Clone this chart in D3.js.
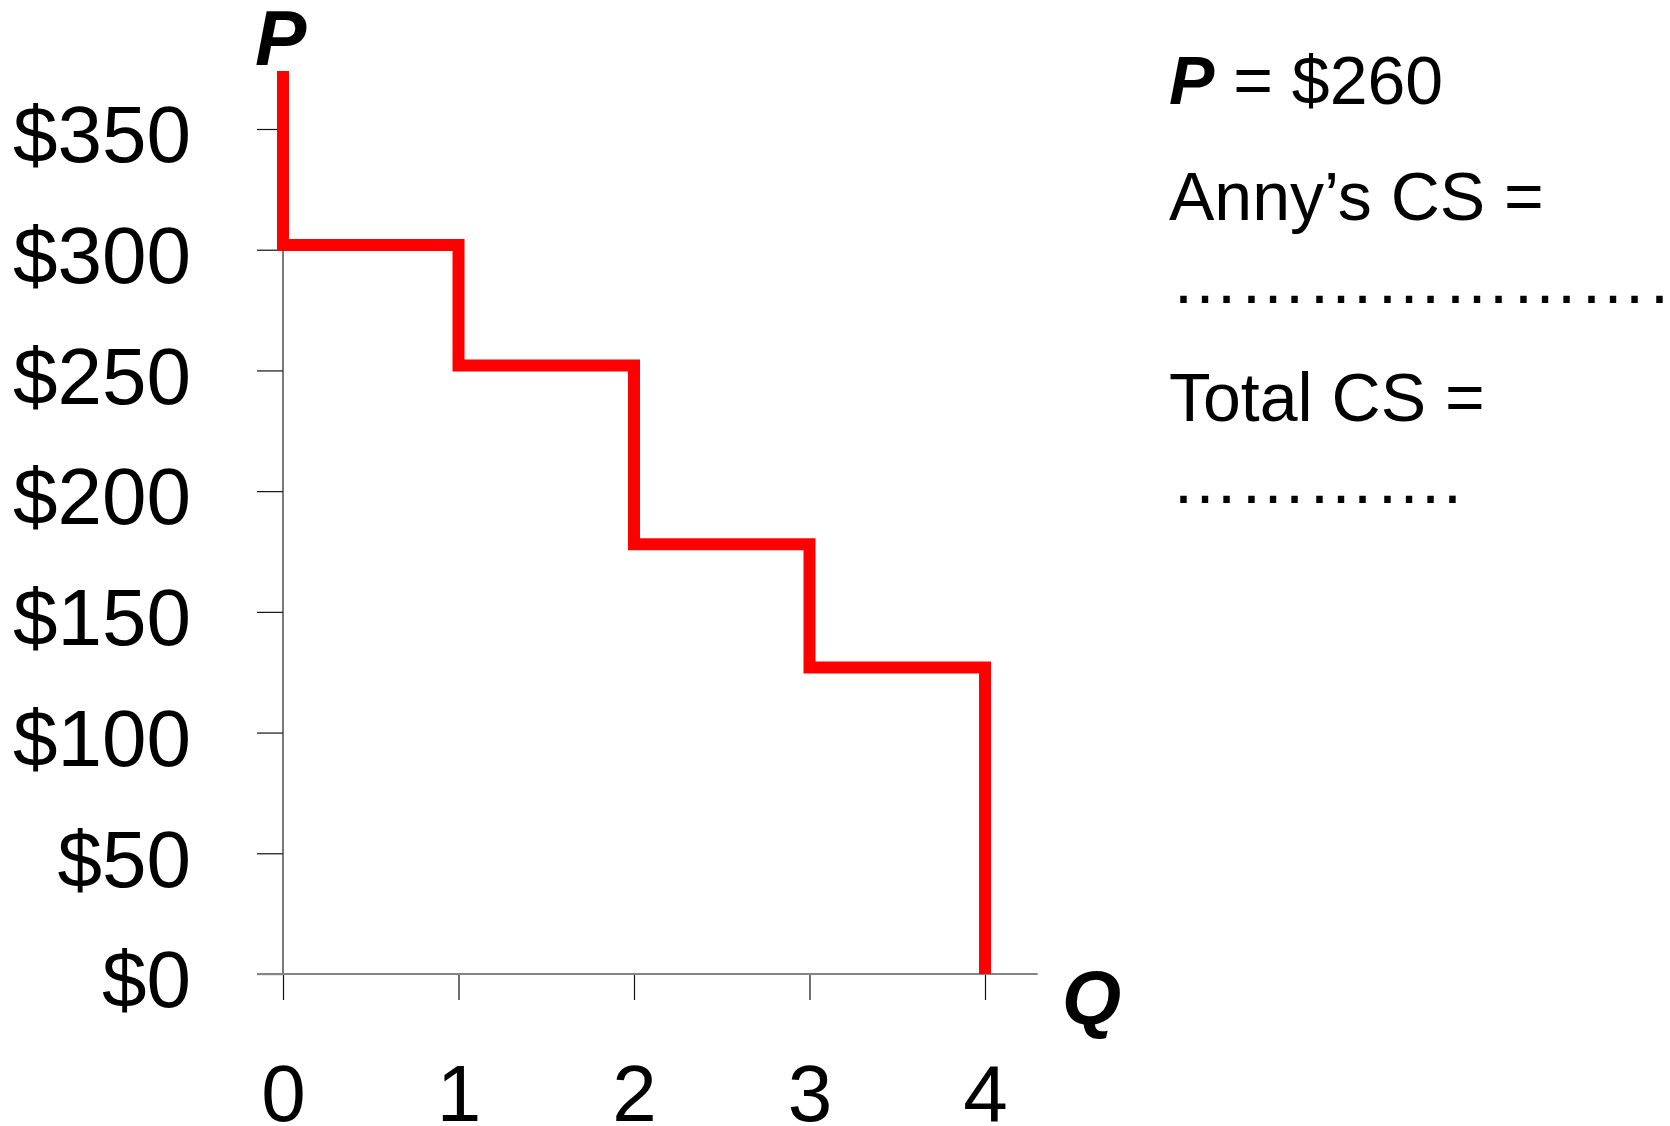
<!DOCTYPE html>
<html>
<head>
<meta charset="utf-8">
<script src="https://cdn.jsdelivr.net/npm/d3@7"></script>
<style>
  html, body { margin: 0; padding: 0; background: #fff; overflow: hidden; }
  svg { display: block; font-family: 'Liberation Sans', Arial, sans-serif; }
</style>
</head>
<body>
<div id="chart"></div>
<script>
const quantities = [0, 1, 2, 3, 4];
const prices = [302, 252, 178, 127];   // willingness to pay for each unit
const curveTop = 374;                  // demand line runs above the last tick
const yTicks = [0, 50, 100, 150, 200, 250, 300, 350];
const notes = ['= $260', 'Anny\u2019s CS =', 'Total CS ='];

const svgWidth = 1670;
const svgHeight = 1126;
const tickLen = 26;

const svg = d3.select('#chart')
  .append('svg')
  .attr('width', svgWidth)
  .attr('height', svgHeight);

const x = d3.scaleLinear().domain([0, 4]).range([283, 985]);
const y = d3.scaleLinear().domain([0, 350]).range([974, 129]);

// y axis
const yAxis = svg.append('g')
  .attr('transform', `translate(${x(0)}, 0)`)
  .call(d3.axisLeft(y)
    .tickValues(yTicks)
    .tickSize(tickLen)
    .tickPadding(66)
    .tickFormat((d) => '$' + d));

yAxis.select('.domain').remove();
yAxis.selectAll('.tick line').attr('stroke', '#111').attr('stroke-width', 1.2);
yAxis.selectAll('.tick text')
  .attr('font-size', 80)
  .attr('font-family', "'Liberation Sans', Arial, sans-serif")
  .attr('fill', '#000')
  .attr('dy', '0.41em');

svg.append('line')
  .attr('x1', x(0)).attr('x2', x(0))
  .attr('y1', y(0)).attr('y2', y(curveTop))
  .attr('stroke', '#333')
  .attr('stroke-width', 1.3);

// x axis
const xAxis = svg.append('g')
  .attr('transform', `translate(0, ${y(0)})`)
  .call(d3.axisBottom(x)
    .tickValues(quantities)
    .tickSize(tickLen)
    .tickPadding(64)
    .tickFormat(d3.format('d')));

xAxis.select('.domain').remove();
xAxis.selectAll('.tick line').attr('stroke', '#111').attr('stroke-width', 1.2);
xAxis.selectAll('.tick text')
  .attr('font-size', 80)
  .attr('font-family', "'Liberation Sans', Arial, sans-serif")
  .attr('fill', '#000');

svg.append('line')
  .attr('x1', x(0) - tickLen).attr('x2', x(4.3))
  .attr('y1', y(0)).attr('y2', y(0))
  .attr('stroke', '#858585')
  .attr('stroke-width', 2.2);

// demand steps
const points = [[0, curveTop]]
  .concat(prices.map((p, i) => [quantities[i], p]))
  .concat([[quantities[quantities.length - 1], 0]]);

const stepLine = d3.line()
  .x((d) => x(d[0]))
  .y((d) => y(d[1]))
  .curve(d3.curveStepAfter);

svg.append('path')
  .datum(points)
  .attr('d', stepLine)
  .attr('fill', 'none')
  .attr('stroke', '#ff0000')
  .attr('stroke-width', 12)
  .attr('stroke-linejoin', 'miter')
  .attr('stroke-linecap', 'butt');

// axis titles
svg.append('text')
  .attr('x', 255)
  .attr('y', 65)
  .attr('font-size', 77)
  .attr('font-weight', 'bold')
  .attr('font-style', 'italic')
  .text('P');

svg.append('text')
  .attr('x', 1062)
  .attr('y', 1024)
  .attr('font-size', 76)
  .attr('font-weight', 'bold')
  .attr('font-style', 'italic')
  .text('Q');

// notes on the right
const noteX = 1169;
const line1 = svg.append('text')
  .attr('x', noteX)
  .attr('y', 104)
  .attr('font-size', 68);
line1.append('tspan')
  .attr('font-weight', 'bold')
  .attr('font-style', 'italic')
  .text('P');
line1.append('tspan').text(' ' + notes[0]);

svg.append('text')
  .attr('x', noteX)
  .attr('y', 220)
  .attr('font-size', 68)
  .text(notes[1]);

svg.append('text')
  .attr('x', noteX + 2)
  .attr('y', 303)
  .attr('font-size', 68)
  .text('\u2026'.repeat(10));

svg.append('text')
  .attr('x', noteX)
  .attr('y', 421)
  .attr('font-size', 68)
  .text(notes[2]);

svg.append('text')
  .attr('x', noteX + 2)
  .attr('y', 503)
  .attr('font-size', 68)
  .text('\u2026'.repeat(4) + '.');
</script>
</body>
</html>
